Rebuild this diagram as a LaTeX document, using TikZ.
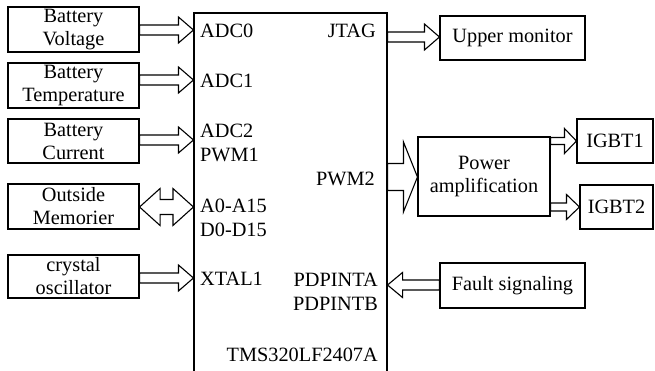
\documentclass[tikz,border=0pt]{standalone}
\usepackage{fontspec}
\setmainfont{Liberation Serif}
\usetikzlibrary{calc}
\tikzset{
  box/.style={draw, line width=1.1pt, inner sep=0pt, align=center, font=\fontsize{20.3}{23}\selectfont},
  lbl/.style={inner sep=0pt, font=\fontsize{20.3}{23}\selectfont},
  hol/.style={draw, line width=1.1pt, line join=miter},
}
\newcommand\harrow[5]{%
  \draw[hol] let \p1=(#1), \p2=(#2), \n1={(\x2>\x1)?1:-1} in
  (\x1,{\y1+#3pt}) -- ({\x2-(\n1)*#5pt},{\y1+#3pt}) -- ({\x2-(\n1)*#5pt},{\y1+#4pt})
  -- (\x2,\y1) -- ({\x2-(\n1)*#5pt},{\y1-#4pt}) -- ({\x2-(\n1)*#5pt},{\y1-#3pt})
  -- (\x1,{\y1-#3pt}) -- cycle;}
\newcommand\dharrow[5]{%
  \draw[hol] let \p1=(#1), \p2=(#2) in
  (\x1,\y1) -- ({\x1+#5pt},{\y1+#4pt}) -- ({\x1+#5pt},{\y1+#3pt}) -- ({\x2-#5pt},{\y1+#3pt})
  -- ({\x2-#5pt},{\y1+#4pt}) -- (\x2,\y1) -- ({\x2-#5pt},{\y1-#4pt}) -- ({\x2-#5pt},{\y1-#3pt})
  -- ({\x1+#5pt},{\y1-#3pt}) -- ({\x1+#5pt},{\y1-#4pt}) -- cycle;}
\begin{document}
\begin{tikzpicture}[x=1pt,y=-1pt]
\useasboundingbox (0,0) rectangle (655,371);
% chip
\node[box, minimum width=193pt, minimum height=367pt] (chip) at (290.5,196.5) {};
% left boxes
\node[box, minimum width=131pt, minimum height=45pt] (bv) at (73.5,29.5) {Battery\\Voltage};
\node[box, minimum width=131pt, minimum height=45pt] (bt) at (73.5,85.5) {Battery\\Temperature};
\node[box, minimum width=131pt, minimum height=44pt] (bc) at (73.5,141) {Battery\\Current};
\node[box, minimum width=131pt, minimum height=45pt] (om) at (73.5,206.5) {Outside\\Memorier};
\node[box, minimum width=131pt, minimum height=43pt] (co) at (73.5,276.5) {crystal\\oscillator};
% right boxes
\node[box, minimum width=145pt, minimum height=44pt] (um) at (512.5,38) {Upper monitor};
\node[box, minimum width=132pt, minimum height=79pt] (pa) at (484,176.5) {Power\\amplification};
\node[box, minimum width=76pt, minimum height=44pt] (ig1) at (615,141) {IGBT1};
\node[box, minimum width=73pt, minimum height=44pt] (ig2) at (616.5,207) {IGBT2};
\node[box, minimum width=145pt, minimum height=45pt] (fs) at (512.5,285.5) {Fault signaling};
% chip labels
\node[lbl, anchor=west] (adc0) at (200,31) {ADC0};
\node[lbl, anchor=west] (adc1) at (200,81) {ADC1};
\node[lbl, anchor=west] (adc2) at (200,131) {ADC2};
\node[lbl, anchor=west] (pwm1) at (200,155) {PWM1};
\node[lbl, anchor=west] (addr) at (200,206) {A0-A15};
\node[lbl, anchor=west] (data) at (200,230) {D0-D15};
\node[lbl, anchor=west] (xtal) at (200,279) {XTAL1};
\node[lbl, anchor=east] (jtag) at (376,31) {JTAG};
\node[lbl, anchor=east] (pwm2) at (375,179) {PWM2};
\node[lbl, anchor=east] (pda) at (378,280) {PDPINTA};
\node[lbl, anchor=east] (pdb) at (378,304) {PDPINTB};
\node[lbl, anchor=east] (tms) at (378,355) {TMS320LF2407A};
% arrows
\harrow{bv.east |- 0,30}{chip.west |- 0,30}{5}{13}{15}
\harrow{bt.east |- 0,80}{chip.west |- 0,80}{5}{13}{15}
\harrow{bc.east |- 0,140}{chip.west |- 0,140}{5}{13}{15}
\harrow{co.east |- 0,278}{chip.west |- 0,278}{5}{13}{15}
\dharrow{om.east |- 0,207}{chip.west |- 0,207}{7.5}{18.5}{20.5}
\harrow{chip.east |- 0,37}{um.west |- 0,37}{5}{13}{15}
\harrow{chip.east |- 0,177}{pa.west |- 0,177}{13.5}{35}{14}
\harrow{pa.east |- 0,141}{ig1.west |- 0,141}{3.5}{12.5}{12}
\harrow{pa.east |- 0,207}{ig2.west |- 0,207}{4}{12.5}{13}
\harrow{fs.west |- 0,285}{chip.east |- 0,285}{5}{12.5}{15}
\end{tikzpicture}
\end{document}
